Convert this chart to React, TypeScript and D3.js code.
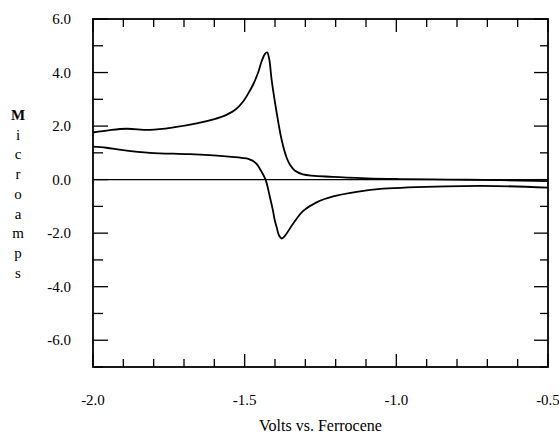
import React from "react";
import * as d3 from "d3";

const W = 559;
const H = 434;

// Forward (upper) sweep: volts, microamps
const upperVolts = [-2.0, -1.944, -1.889, -1.812, -1.735, -1.658, -1.6, -1.56, -1.53, -1.505, -1.488, -1.47, -1.455, -1.444, -1.433, -1.426, -1.419, -1.411, -1.394, -1.378, -1.361, -1.35, -1.334, -1.308, -1.209, -1.097, -0.988, -0.823, -0.658, -0.5];
const upperAmps = [1.76, 1.85, 1.9, 1.86, 1.95, 2.1, 2.26, 2.42, 2.62, 2.92, 3.22, 3.6, 4.02, 4.42, 4.7, 4.75, 4.5, 3.72, 2.47, 1.48, 0.8, 0.55, 0.33, 0.2, 0.1, 0.045, 0.02, 0.0, -0.02, -0.06];

// Return (lower) sweep
const lowerVolts = [-2.0, -1.956, -1.901, -1.812, -1.681, -1.571, -1.494, -1.482, -1.471, -1.46, -1.444, -1.431, -1.417, -1.407, -1.401, -1.394, -1.387, -1.378, -1.372, -1.361, -1.34, -1.307, -1.263, -1.208, -1.131, -1.043, -0.835, -0.67, -0.5];
const lowerAmps = [1.23, 1.19, 1.1, 1.0, 0.95, 0.88, 0.79, 0.75, 0.69, 0.58, 0.29, 0.0, -0.64, -1.14, -1.51, -1.8, -2.08, -2.2, -2.16, -2.0, -1.64, -1.17, -0.85, -0.63, -0.46, -0.34, -0.25, -0.24, -0.3];

const xTickLabels = ["-2.0", "-1.5", "-1.0", "-0.5"];
const yTickLabels = ["6.0", "4.0", "2.0", "0.0", "-2.0", "-4.0", "-6.0"];
const yLabelLetters = ["M", "i", "c", "r", "o", "a", "m", "p", "s"];
const xTitle = "Volts vs. Ferrocene";

const left = 93, right = 548, top = 19, bottom = 367;

export default function App() {
  const x = d3.scaleLinear().domain([-2.0, -0.5]).range([left, right]);
  const y = d3.scaleLinear().domain([-7, 6]).range([bottom, top]);

  const line = d3
    .line<[number, number]>()
    .x((d) => x(d[0]))
    .y((d) => y(d[1]))
    .curve(d3.curveCatmullRom.alpha(0.5));

  const upper = upperVolts.map((v, i) => [v, upperAmps[i]] as [number, number]);
  const lower = lowerVolts.map((v, i) => [v, lowerAmps[i]] as [number, number]);

  const xTicks = d3.range(0, 16).map((k) => -2.0 + k * 0.1);
  const yTicks = d3.range(-7, 7);

  const font = "'Liberation Serif', 'Times New Roman', Times, serif";

  return (
    <svg
      width={W}
      height={H}
      style={{ position: "absolute", left: 0, top: 0, background: "#fff", fontFamily: font }}
    >
      <rect x={0} y={0} width={W} height={H} fill="#fff" />
      {/* zero line */}
      <line x1={left} x2={right} y1={y(0)} y2={y(0)} stroke="#000" strokeWidth={1.4} />
      {/* x ticks */}
      {xTicks.map((t, k) => {
        const major = k % 5 === 0;
        const len = major ? 13 : 8;
        return (
          <g key={"xt" + k}>
            <line x1={x(t)} x2={x(t)} y1={bottom} y2={bottom - len} stroke="#000" strokeWidth={1.3} />
            <line x1={x(t)} x2={x(t)} y1={top} y2={top + len} stroke="#000" strokeWidth={1.3} />
          </g>
        );
      })}
      {/* y ticks */}
      {yTicks.map((t) => {
        const major = t % 2 === 0;
        const len = major ? 15 : 10;
        return (
          <g key={"yt" + t}>
            <line x1={left} x2={left + len} y1={y(t)} y2={y(t)} stroke="#000" strokeWidth={1.3} />
            <line x1={right} x2={right - (major ? 14 : 8)} y1={y(t)} y2={y(t)} stroke="#000" strokeWidth={1.3} />
          </g>
        );
      })}
      {/* frame */}
      <rect x={left} y={top} width={right - left} height={bottom - top} fill="none" stroke="#000" strokeWidth={1.8} />
      {/* curves */}
      <path d={line(upper) || ""} fill="none" stroke="#000" strokeWidth={1.8} />
      <path d={line(lower) || ""} fill="none" stroke="#000" strokeWidth={1.8} />
      {/* y tick labels */}
      {yTickLabels.map((s) => (
        <text key={"yl" + s} x={71} y={y(parseFloat(s)) + 5} textAnchor="end" fontSize={15} fill="#000" style={{ fontFamily: font }}>
          {s}
        </text>
      ))}
      {/* x tick labels */}
      {xTickLabels.map((s) => (
        <text key={"xl" + s} x={x(parseFloat(s))} y={405} textAnchor="middle" fontSize={15} fill="#000" style={{ fontFamily: font }}>
          {s}
        </text>
      ))}
      {/* x title */}
      <text x={(left + right) / 2} y={431} textAnchor="middle" fontSize={16} fill="#000" style={{ fontFamily: font }}>
        {xTitle}
      </text>
      {/* y title, stacked letters */}
      {yLabelLetters.map((c, k) => (
        <text
          key={"yc" + k}
          x={18}
          y={120 + k * 19.7}
          textAnchor="middle"
          fontSize={15}
          fontWeight={k === 0 ? "bold" : "normal"}
          fill="#000"
          style={{ fontFamily: font }}
        >
          {c}
        </text>
      ))}
    </svg>
  );
}
